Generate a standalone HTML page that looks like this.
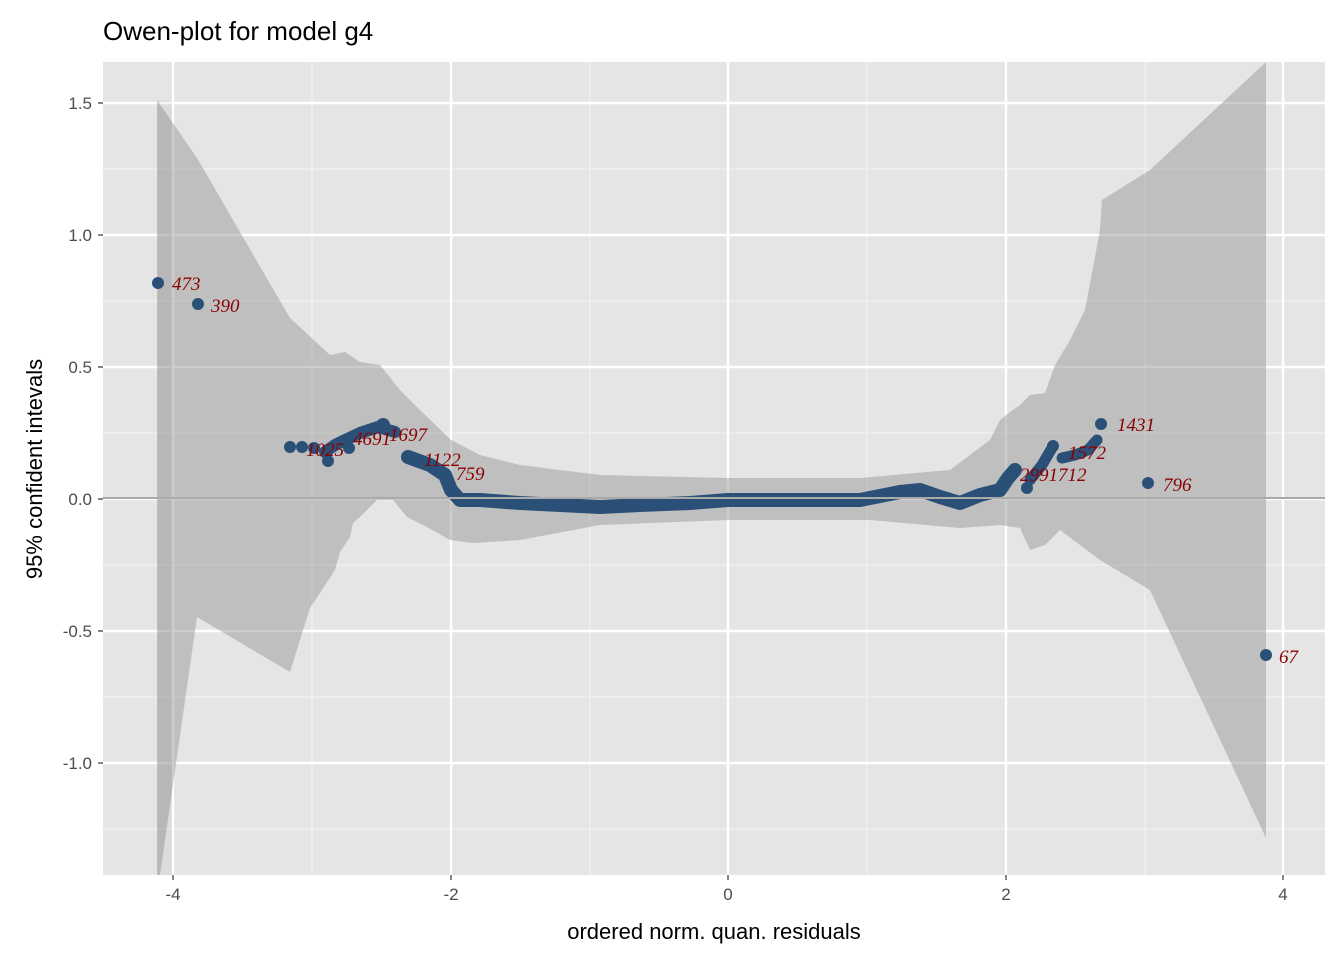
<!DOCTYPE html>
<html><head><meta charset="utf-8"><style>body{margin:0;background:#fff}svg{display:block}</style></head><body>
<svg width="1344" height="960" xmlns="http://www.w3.org/2000/svg" font-family="Liberation Sans, sans-serif">
<rect width="1344" height="960" fill="#fff"/>
<rect x="103" y="62" width="1222" height="813" fill="#e5e5e5"/>
<g stroke="#f2f2f2" stroke-width="1.2">
<line x1="103" x2="1325" y1="169" y2="169"/><line x1="103" x2="1325" y1="301" y2="301"/><line x1="103" x2="1325" y1="433" y2="433"/><line x1="103" x2="1325" y1="565" y2="565"/><line x1="103" x2="1325" y1="697" y2="697"/><line x1="103" x2="1325" y1="829" y2="829"/>
<line y1="62" y2="875" x1="312" x2="312"/><line y1="62" y2="875" x1="590" x2="590"/><line y1="62" y2="875" x1="867" x2="867"/><line y1="62" y2="875" x1="1145" x2="1145"/>
</g>
<g stroke="#fff" stroke-width="2.4">
<line x1="103" x2="1325" y1="103" y2="103"/><line x1="103" x2="1325" y1="235" y2="235"/><line x1="103" x2="1325" y1="367" y2="367"/><line x1="103" x2="1325" y1="499" y2="499"/><line x1="103" x2="1325" y1="631" y2="631"/><line x1="103" x2="1325" y1="763" y2="763"/>
<line y1="62" y2="875" x1="173" x2="173"/><line y1="62" y2="875" x1="451" x2="451"/><line y1="62" y2="875" x1="728" x2="728"/><line y1="62" y2="875" x1="1006" x2="1006"/><line y1="62" y2="875" x1="1283" x2="1283"/>
</g>
<polygon fill="#999" fill-opacity="0.5" points="157,100 197,158 290,318 330,355 345,352 360,362 380,365 400,390 420,410 451,440 480,455 520,465 600,475 728,478 860,478 950,470 990,440 1000,420 1010,412 1020,405 1030,395 1045,393 1055,365 1070,340 1085,310 1100,230 1102,200 1150,170 1266,62 1266,838 1150,590 1100,560 1080,545 1060,530 1045,545 1030,550 1020,528 1000,525 960,528 870,520 728,520 600,525 520,540 473,543 450,540 427,527 407,517 393,500 377,500 360,517 353,523 350,537 340,552 335,570 310,608 290,672 197,617 160,875 157,875"/>
<rect x="158" y="100" width="14" height="775" fill="#000" fill-opacity="0.04"/>
<path d="M408,457 L430,465 L445,475 L451,490 L460,500 L480,500 L520,503 L560,505 L600,507 L640,505 L690,503 L728,500 L780,500 L860,500 L880,496 L900,492 L920,490 L940,497 L960,503 L980,495 L1000,490 L1008,478 L1015,470" fill="none" stroke="#2b5078" stroke-width="14" stroke-linejoin="round" stroke-linecap="round"/>
<path d="M325,452 L335,445 L345,440 L360,433 L378,427 L395,432" fill="none" stroke="#2b5078" stroke-width="12" stroke-linejoin="round" stroke-linecap="round"/>
<path d="M1030,480 L1042,465 L1052,448 M1062,458 L1075,455 L1088,450 L1097,440" fill="none" stroke="#2b5078" stroke-width="11" stroke-linejoin="round" stroke-linecap="round"/>
<line x1="103" x2="1325" y1="498" y2="498" stroke="#aaa" stroke-width="2"/>
<g fill="#2b5078">
<circle cx="158" cy="283" r="6"/><circle cx="198" cy="304" r="6"/><circle cx="290" cy="447" r="6"/><circle cx="302" cy="447" r="6"/><circle cx="314" cy="448" r="6"/><circle cx="328" cy="461" r="6"/><circle cx="349" cy="448" r="6"/><circle cx="383" cy="425" r="7"/>
<circle cx="1101" cy="424" r="6"/><circle cx="1148" cy="483" r="6"/><circle cx="1266" cy="655" r="6"/><circle cx="1027" cy="488" r="6"/><circle cx="1053" cy="446" r="6"/>
</g>
<g fill="#8b0000" font-family="Liberation Serif, serif" font-style="italic" font-size="19">
<text x="172" y="290">473</text><text x="211" y="312">390</text><text x="306" y="456">1025</text><text x="353" y="445">4691</text><text x="389" y="441">1697</text><text x="424" y="466">1122</text><text x="456" y="480">759</text>
<text x="1117" y="431">1431</text><text x="1068" y="459">1572</text><text x="1020" y="481">2991712</text><text x="1163" y="491">796</text><text x="1279" y="663">67</text>
</g>
<g stroke="#333" stroke-width="1.2">
<line x1="98" x2="103" y1="103" y2="103"/><line x1="98" x2="103" y1="235" y2="235"/><line x1="98" x2="103" y1="367" y2="367"/><line x1="98" x2="103" y1="499" y2="499"/><line x1="98" x2="103" y1="631" y2="631"/><line x1="98" x2="103" y1="763" y2="763"/>
<line y1="875" y2="880" x1="173" x2="173"/><line y1="875" y2="880" x1="451" x2="451"/><line y1="875" y2="880" x1="728" x2="728"/><line y1="875" y2="880" x1="1006" x2="1006"/><line y1="875" y2="880" x1="1283" x2="1283"/>
</g>
<g fill="#4d4d4d" font-size="17" text-anchor="end">
<text x="92" y="109">1.5</text><text x="92" y="241">1.0</text><text x="92" y="373">0.5</text><text x="92" y="505">0.0</text><text x="92" y="637">-0.5</text><text x="92" y="769">-1.0</text>
</g>
<g fill="#4d4d4d" font-size="17" text-anchor="middle">
<text x="173" y="900">-4</text><text x="451" y="900">-2</text><text x="728" y="900">0</text><text x="1006" y="900">2</text><text x="1283" y="900">4</text>
</g>
<text x="714" y="939" text-anchor="middle" font-size="22" fill="#000">ordered norm. quan. residuals</text>
<text transform="translate(42,469) rotate(-90)" text-anchor="middle" font-size="22" fill="#000">95% confident intevals</text>
<text x="103" y="40" font-size="26" fill="#000">Owen-plot for model g4</text>
</svg>
</body></html>
